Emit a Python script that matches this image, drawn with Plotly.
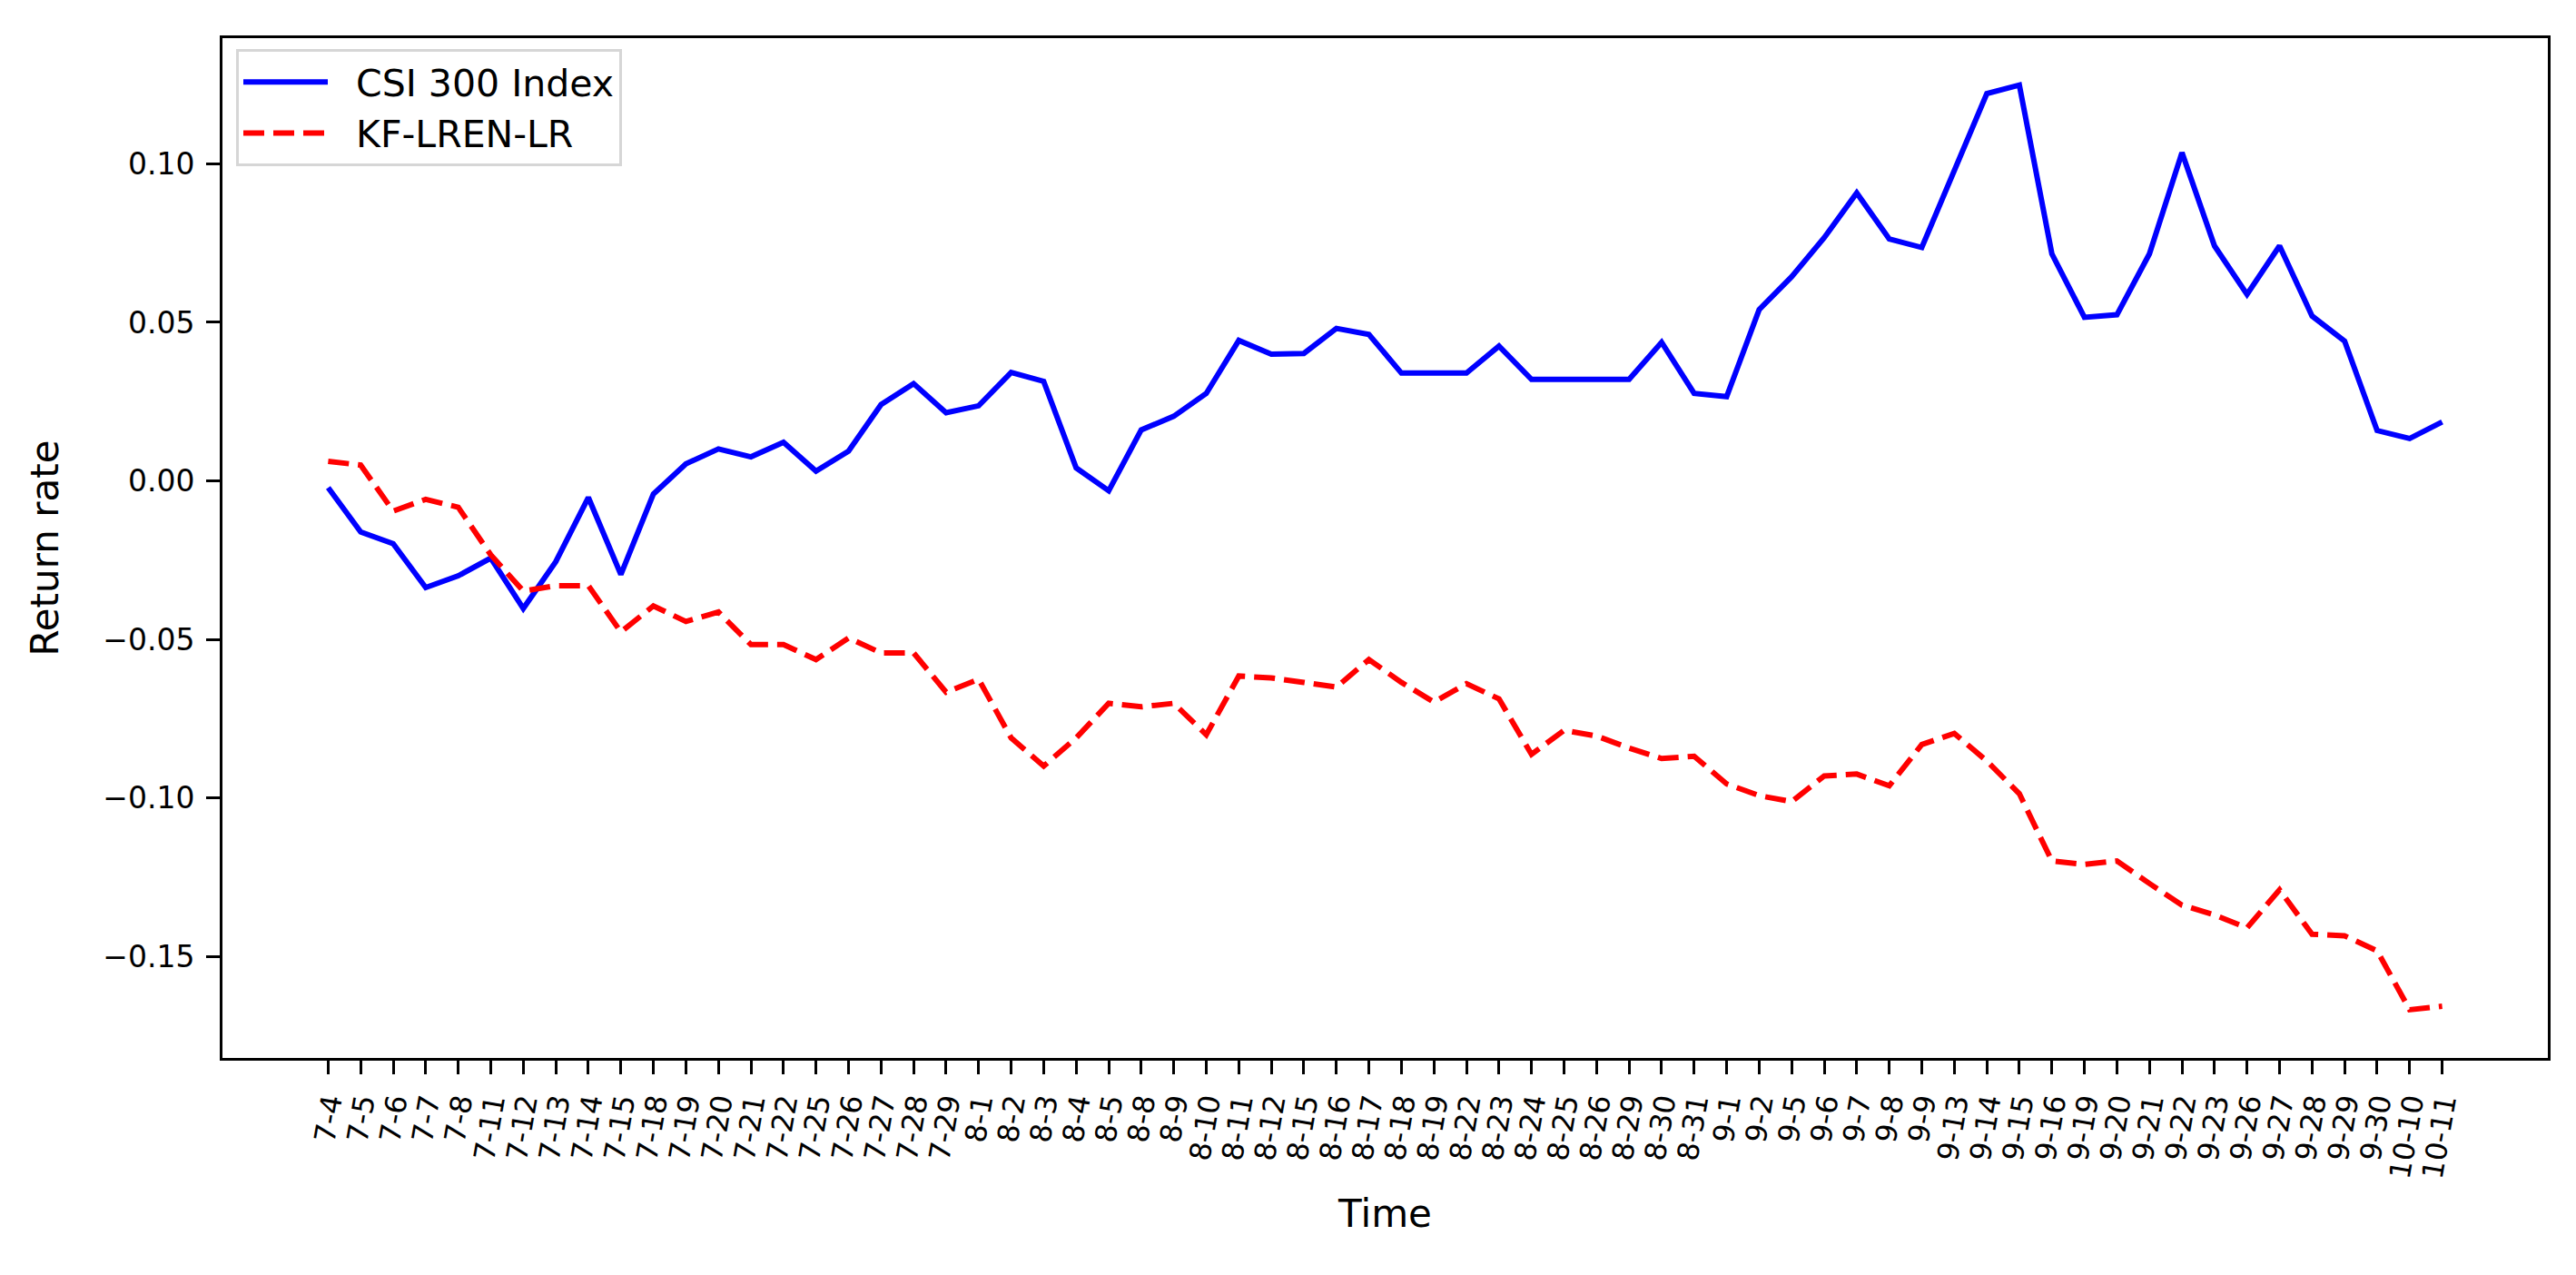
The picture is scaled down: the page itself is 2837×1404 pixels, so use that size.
import plotly.graph_objects as go

dates = ["7-4", "7-5", "7-6", "7-7", "7-8", "7-11", "7-12", "7-13", "7-14", "7-15",
         "7-18", "7-19", "7-20", "7-21", "7-22", "7-25", "7-26", "7-27", "7-28", "7-29",
         "8-1", "8-2", "8-3", "8-4", "8-5", "8-8", "8-9", "8-10", "8-11", "8-12",
         "8-15", "8-16", "8-17", "8-18", "8-19", "8-22", "8-23", "8-24", "8-25", "8-26",
         "8-29", "8-30", "8-31", "9-1", "9-2", "9-5", "9-6", "9-7", "9-8", "9-9",
         "9-13", "9-14", "9-15", "9-16", "9-19", "9-20", "9-21", "9-22", "9-23", "9-26",
         "9-27", "9-28", "9-29", "9-30", "10-10", "10-11"]

csi300 = [-0.0021, -0.0161, -0.0198, -0.0336, -0.0299, -0.0243, -0.0402, -0.0254, -0.0052, -0.0295,
          -0.0041, 0.0054, 0.0101, 0.0076, 0.0122, 0.0031, 0.0094, 0.0241, 0.0307, 0.0215,
          0.0237, 0.0342, 0.0314, 0.0041, -0.0031, 0.0161, 0.0204, 0.0276, 0.0443, 0.0400,
          0.0402, 0.0481, 0.0462, 0.0340, 0.0340, 0.0340, 0.0425, 0.0320, 0.0320, 0.0320,
          0.0320, 0.0437, 0.0276, 0.0266, 0.0540, 0.0644, 0.0767, 0.0908, 0.0763, 0.0736,
          0.0984, 0.1221, 0.1248, 0.0716, 0.0516, 0.0524, 0.0716, 0.1035, 0.0741, 0.0588,
          0.0741, 0.0520, 0.0441, 0.0159, 0.0134, 0.0186]

kf_lren_lr = [0.0062, 0.0050, -0.0095, -0.0058, -0.0083, -0.0233, -0.0347, -0.0330, -0.0330, -0.0476,
              -0.0394, -0.0443, -0.0413, -0.0516, -0.0516, -0.0563, -0.0495, -0.0542, -0.0542, -0.0666,
              -0.0625, -0.0810, -0.0899, -0.0810, -0.0701, -0.0712, -0.0701, -0.0800, -0.0615, -0.0621,
              -0.0635, -0.0650, -0.0563, -0.0635, -0.0697, -0.0639, -0.0687, -0.0862, -0.0786, -0.0804,
              -0.0842, -0.0875, -0.0868, -0.0955, -0.0992, -0.1011, -0.0930, -0.0924, -0.0961, -0.0831,
              -0.0796, -0.0883, -0.0986, -0.1198, -0.1209, -0.1198, -0.1269, -0.1337, -0.1368, -0.1409,
              -0.1289, -0.1429, -0.1434, -0.1481, -0.1667, -0.1656]

y_ticks = [-0.15, -0.10, -0.05, 0.00, 0.05, 0.10]
series_names = ["CSI 300 Index", "KF-LREN-LR"]

pad = "\u00a0\u00a0"
fig = go.Figure()
fig.add_trace(go.Scatter(x=dates, y=csi300, mode="lines", name=pad + series_names[0],
                         line=dict(color="#0000ff", width=6)))
fig.add_trace(go.Scatter(x=dates, y=kf_lren_lr, mode="lines", name=pad + series_names[1],
                         line=dict(color="#ff0000", width=6, dash="23px,10px")))

W, H = 2837, 1404
ml, mr, mt, mb = 237, 39, 34, 247
pw, ph = W - ml - mr, H - mt - mb
fig.update_layout(
    width=W, height=H,
    margin=dict(l=ml, r=mr, t=mt, b=mb, autoexpand=False),
    paper_bgcolor="white", plot_bgcolor="white",
    font=dict(family="DejaVu Sans", color="black", size=33),
    showlegend=True,
    legend=dict(
        x=(252 - ml) / pw, y=1 - (46 - mt) / ph,
        xanchor="left", yanchor="top",
        bgcolor="rgba(255,255,255,0.8)", bordercolor="#d6d6d6", borderwidth=3,
        font=dict(size=41, family="DejaVu Sans"),
        itemwidth=93, tracegroupgap=0,
    ),
)
fig.update_xaxes(
    type="category", range=[-3.25, len(dates) - 1 + 3.25],
    tickmode="array", tickvals=dates, ticktext=dates,
    showline=True, mirror=True, linecolor="black", linewidth=3,
    ticks="outside", ticklen=15, tickwidth=3, tickcolor="black",
    tickangle=-80, tickfont=dict(size=32, family="DejaVu Sans"),
    showgrid=False, zeroline=False,
    title=dict(text="Time", font=dict(size=42, family="DejaVu Sans"), standoff=22),
)
fig.update_yaxes(
    range=[-0.1819, 0.1396],
    tickvals=y_ticks, tickformat=".2f",
    showline=True, mirror=True, linecolor="black", linewidth=3,
    ticks="outside", ticklen=15, tickwidth=3, tickcolor="black",
    tickfont=dict(size=33, family="DejaVu Sans"), ticklabelstandoff=6,
    showgrid=False, zeroline=False,
    title=dict(text="Return rate", font=dict(size=42, family="DejaVu Sans"), standoff=36),
)

fig.write_html("out.html")
